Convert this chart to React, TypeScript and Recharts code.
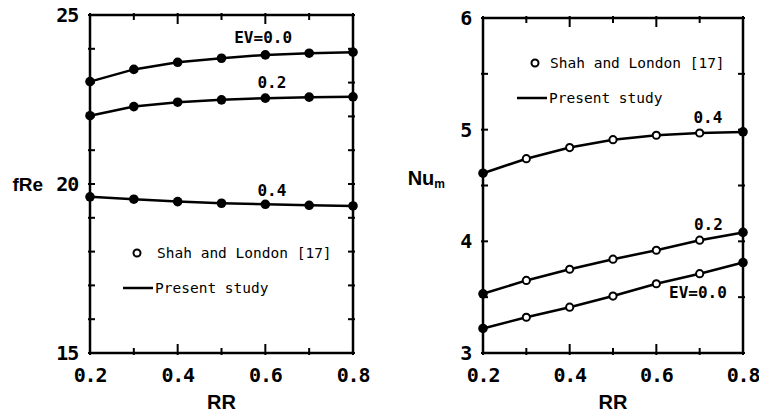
import React from "react";
import { LineChart, Line, XAxis, YAxis, ReferenceDot, Legend } from "recharts";

// RR values shared by every curve
const rr = [0.2, 0.3, 0.4, 0.5, 0.6, 0.7, 0.8];

// friction factor fRe for each EV
const fReEv00 = [23.03, 23.39, 23.6, 23.72, 23.82, 23.87, 23.9];
const fReEv02 = [22.02, 22.29, 22.42, 22.49, 22.54, 22.57, 22.58];
const fReEv04 = [19.62, 19.55, 19.48, 19.43, 19.4, 19.37, 19.35];

// mean Nusselt number Nu_m for each EV
const nuEv00 = [3.22, 3.32, 3.41, 3.51, 3.62, 3.71, 3.81];
const nuEv02 = [3.53, 3.65, 3.75, 3.84, 3.92, 4.01, 4.08];
const nuEv04 = [4.61, 4.74, 4.84, 4.91, 4.95, 4.97, 4.98];

const rrTicks = [0.2, 0.4, 0.6, 0.8];
const rrMinorTicks = [0.2, 0.3, 0.4, 0.5, 0.6, 0.7, 0.8];
const fReTicks = [15, 20, 25];
const fReMinorTicks = [15, 16, 17, 18, 19, 20, 21, 22, 23, 24, 25];
const nuTicks = [3, 4, 5, 6];
const nuMinorTicks = [3, 3.5, 4, 4.5, 5, 5.5, 6];

const fReData = rr.map((x, i) => ({
  rr: x,
  ev00: fReEv00[i],
  ev02: fReEv02[i],
  ev04: fReEv04[i],
}));

const nuData = rr.map((x, i) => ({
  rr: x,
  ev00: nuEv00[i],
  ev02: nuEv02[i],
  ev04: nuEv04[i],
}));

const MONO = "'DejaVu Sans Mono', monospace";
const SANS = "'Liberation Sans', Arial, sans-serif";
const NARROW = "'Liberation Sans Narrow', 'Liberation Sans', Arial, sans-serif";
const frame = { stroke: "#000", strokeWidth: 2.5 };
const tickFont = { fill: "#000", fontSize: 20, fontWeight: "bold", fontFamily: MONO, letterSpacing: -1.2 };
const curveLabel = { fill: "#000", fontSize: 16, fontWeight: "bold", fontFamily: MONO };

const isMajorRR = (v: number) => Math.round(v * 10) % 2 === 0;

// inward tick marks drawn at the axis line, longer at the labelled values
const inwardTick =
  (side: "top" | "bottom" | "left" | "right", major: (v: number) => boolean) =>
  (props: any) => {
    const { x, y, payload, index } = props;
    const len = major(payload.value) ? 9 : 5;
    const out = 2;
    let x1 = x, x2 = x, y1 = y, y2 = y;
    if (side === "bottom") { y1 = y + out; y2 = y - len; }
    if (side === "top") { y1 = y - out; y2 = y + len; }
    if (side === "left") { x1 = x - out; x2 = x + len; }
    if (side === "right") { x1 = x + out; x2 = x - len; }
    return <line key={`t-${side}-${index}`} x1={x1} y1={y1} x2={x2} y2={y2} stroke="#000" strokeWidth={2} />;
  };

const solidDot = (props: any) => (
  <circle key={`d-${props.dataKey}-${props.index}`} cx={props.cx} cy={props.cy} r={4.8} fill="#000" />
);

// end points are computed, the rest are reference values
const mixedDot = (props: any) => {
  const end = props.index === 0 || props.index === rr.length - 1;
  return end ? (
    <circle key={`d-${props.dataKey}-${props.index}`} cx={props.cx} cy={props.cy} r={4.8} fill="#000" />
  ) : (
    <circle
      key={`d-${props.dataKey}-${props.index}`}
      cx={props.cx}
      cy={props.cy}
      r={3.6}
      fill="#fff"
      stroke="#000"
      strokeWidth={2}
    />
  );
};

const KeyBox = ({ dotX, textX, lineX1, lineX2 }: any) => (
  <svg width={250} height={65} style={{ overflow: "visible" }}>
    <circle cx={dotX} cy={15} r={3.5} fill="#fff" stroke="#000" strokeWidth={2} />
    <text x={textX} y={15} dominantBaseline="central" fontFamily={MONO} fontSize={14.5} fill="#000">
      Shah and London [17]
    </text>
    <line x1={lineX1} x2={lineX2} y1={50} y2={50} stroke="#000" strokeWidth={2.5} />
    <text x={lineX2 + 2} y={50} dominantBaseline="central" fontFamily={MONO} fontSize={14.5} fill="#000">
      Present study
    </text>
  </svg>
);

const NuLabel = (props: any) => {
  const { x, y, height } = props.viewBox;
  return (
    <text
      x={x + 2}
      y={y + height / 2 - 8}
      textAnchor="end"
      dominantBaseline="central"
      fontFamily={NARROW}
      fontWeight="bold"
      fontSize={20}
      fill="#000"
    >
      Nu
      <tspan fontSize={12} dy={6}>
        m
      </tspan>
    </text>
  );
};

// labelled RR axis plus the tick marks on the bottom and top edges
const rrAxes = (
  <>
    <XAxis
      dataKey="rr"
      type="number"
      domain={[0.2, 0.8]}
      ticks={rrTicks}
      tickFormatter={(v: number) => v.toFixed(1)}
      tickLine={false}
      axisLine={frame}
      tick={tickFont}
      tickMargin={9}
      height={30}
      label={{
        value: "RR",
        position: "bottom",
        offset: 12,
        fill: "#000",
        fontSize: 20,
        fontWeight: "bold",
        fontFamily: NARROW,
      }}
    />
    <XAxis xAxisId="inB" dataKey="rr" type="number" domain={[0.2, 0.8]} allowDataOverflow ticks={rrMinorTicks} mirror axisLine={false} tickLine={false} tickSize={0} tickMargin={0} tick={inwardTick("bottom", isMajorRR)} />
    <XAxis xAxisId="top" dataKey="rr" type="number" orientation="top" domain={[0.2, 0.8]} allowDataOverflow ticks={rrMinorTicks} mirror axisLine={frame} tickLine={false} tickSize={0} tickMargin={0} tick={inwardTick("top", isMajorRR)} />
  </>
);

const App: React.FC = () => {
  return (
    <div style={{ position: "absolute", left: 0, top: 0, width: 759, height: 415, background: "#fff" }}>
      <div style={{ position: "absolute", left: 0, top: 0 }}>
        <LineChart width={380} height={415} data={fReData} margin={{ top: 15, right: 27, bottom: 32, left: 50 }}>
          {rrAxes}
          <YAxis
            type="number"
            domain={[15, 25]}
            ticks={fReTicks}
            tickLine={false}
            axisLine={frame}
            tick={tickFont}
            tickMargin={6}
            width={40}
            label={{
              value: "fRe",
              position: "left",
              offset: 7,
              fill: "#000",
              fontSize: 19,
              fontWeight: "bold",
              fontFamily: SANS,
            }}
          />
          <YAxis yAxisId="inL" type="number" domain={[15, 25]} allowDataOverflow ticks={fReMinorTicks} mirror axisLine={false} tickLine={false} tickSize={0} tickMargin={0} tick={inwardTick("left", () => false)} />
          <YAxis yAxisId="right" type="number" orientation="right" domain={[15, 25]} allowDataOverflow ticks={fReMinorTicks} mirror axisLine={frame} tickLine={false} tickSize={0} tickMargin={0} tick={inwardTick("right", () => false)} />
          <Line dataKey="ev00" stroke="#000" strokeWidth={2.5} dot={solidDot} isAnimationActive={false} />
          <Line dataKey="ev02" stroke="#000" strokeWidth={2.5} dot={solidDot} isAnimationActive={false} />
          <Line dataKey="ev04" stroke="#000" strokeWidth={2.5} dot={solidDot} isAnimationActive={false} />
          <ReferenceDot x={0.595} y={24.35} r={0} fill="none" stroke="none" label={{ value: "EV=0.0", position: "center", ...curveLabel }} />
          <ReferenceDot x={0.615} y={23.02} r={0} fill="none" stroke="none" label={{ value: "0.2", position: "center", ...curveLabel }} />
          <ReferenceDot x={0.615} y={19.82} r={0} fill="none" stroke="none" label={{ value: "0.4", position: "center", ...curveLabel }} />
          <Legend
            layout="horizontal"
            verticalAlign="middle"
            align="center"
            wrapperStyle={{ left: 115, top: 238, width: 250, height: 65 }}
            content={() => <KeyBox dotX={22} textX={42} lineX1={8} lineX2={38} />}
          />
        </LineChart>
      </div>
      <div style={{ position: "absolute", left: 380, top: 0 }}>
        <LineChart width={379} height={415} data={nuData} margin={{ top: 18, right: 16, bottom: 32, left: 63 }}>
          {rrAxes}
          <YAxis
            type="number"
            domain={[3, 6]}
            ticks={nuTicks}
            tickLine={false}
            axisLine={frame}
            tick={tickFont}
            tickMargin={6}
            width={40}
            label={(p: any) => <NuLabel {...p} />}
          />
          <YAxis yAxisId="inL" type="number" domain={[3, 6]} allowDataOverflow ticks={nuMinorTicks} mirror axisLine={false} tickLine={false} tickSize={0} tickMargin={0} tick={inwardTick("left", () => false)} />
          <YAxis yAxisId="right" type="number" orientation="right" domain={[3, 6]} allowDataOverflow ticks={nuMinorTicks} mirror axisLine={frame} tickLine={false} tickSize={0} tickMargin={0} tick={inwardTick("right", () => false)} />
          <Line dataKey="ev00" stroke="#000" strokeWidth={2.5} dot={mixedDot} isAnimationActive={false} />
          <Line dataKey="ev02" stroke="#000" strokeWidth={2.5} dot={mixedDot} isAnimationActive={false} />
          <Line dataKey="ev04" stroke="#000" strokeWidth={2.5} dot={mixedDot} isAnimationActive={false} />
          <ReferenceDot x={0.719} y={5.11} r={0} fill="none" stroke="none" label={{ value: "0.4", position: "center", ...curveLabel }} />
          <ReferenceDot x={0.72} y={4.15} r={0} fill="none" stroke="none" label={{ value: "0.2", position: "center", ...curveLabel }} />
          <ReferenceDot x={0.696} y={3.54} r={0} fill="none" stroke="none" label={{ value: "EV=0.0", position: "center", ...curveLabel }} />
          <Legend
            layout="horizontal"
            verticalAlign="middle"
            align="center"
            wrapperStyle={{ left: 137, top: 48, width: 250, height: 65 }}
            content={() => <KeyBox dotX={18} textX={33} lineX1={0} lineX2={30} />}
          />
        </LineChart>
      </div>
    </div>
  );
};

export default App;
